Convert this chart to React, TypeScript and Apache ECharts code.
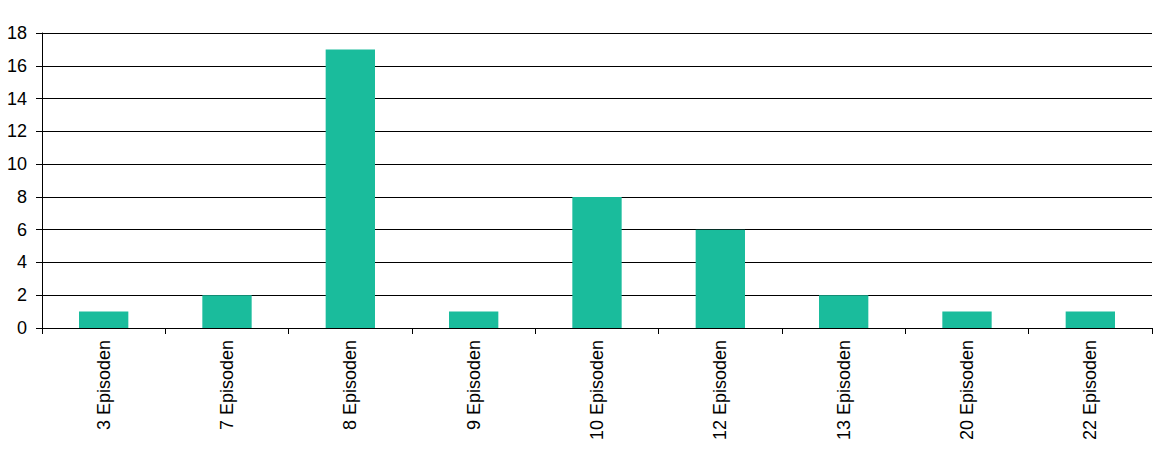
import React, { useEffect, useRef } from "react";
import * as echarts from "echarts";

const categories = ["3 Episoden", "7 Episoden", "8 Episoden", "9 Episoden", "10 Episoden", "12 Episoden", "13 Episoden", "20 Episoden", "22 Episoden"];
const values = [1, 2, 17, 1, 8, 6, 2, 1, 1];

export default function App() {
  const ref = useRef<HTMLDivElement>(null);
  useEffect(() => {
    const chart = echarts.init(ref.current!, undefined, { renderer: "svg" });
    chart.setOption({
      animation: false,
      textStyle: { fontFamily: "Liberation Sans, Arial, sans-serif" },
      grid: { left: 42, right: 10, top: 33, bottom: 136 },
      xAxis: {
        type: "category",
        data: categories,
        axisLine: { lineStyle: { color: "#000", width: 1 } },
        axisTick: { show: true, length: 6, lineStyle: { color: "#000" } },
        axisLabel: { rotate: 90, color: "#000", fontSize: 18, margin: 12, interval: 0 },
      },
      yAxis: {
        type: "value",
        min: 0,
        max: 18,
        interval: 2,
        axisLine: { show: true, lineStyle: { color: "#000", width: 1 } },
        axisTick: { show: true, length: 6, lineStyle: { color: "#000" } },
        axisLabel: { color: "#000", fontSize: 18, margin: 15 },
        splitLine: { lineStyle: { color: "#000", width: 1 } },
      },
      series: [
        {
          type: "bar",
          data: values,
          barWidth: "40%",
          itemStyle: { color: "#1ABC9C" },
        },
      ],
    });
    return () => chart.dispose();
  }, []);
  return <div ref={ref} style={{ width: 1162, height: 464, position: "absolute", left: 0, top: 0 }} />;
}
